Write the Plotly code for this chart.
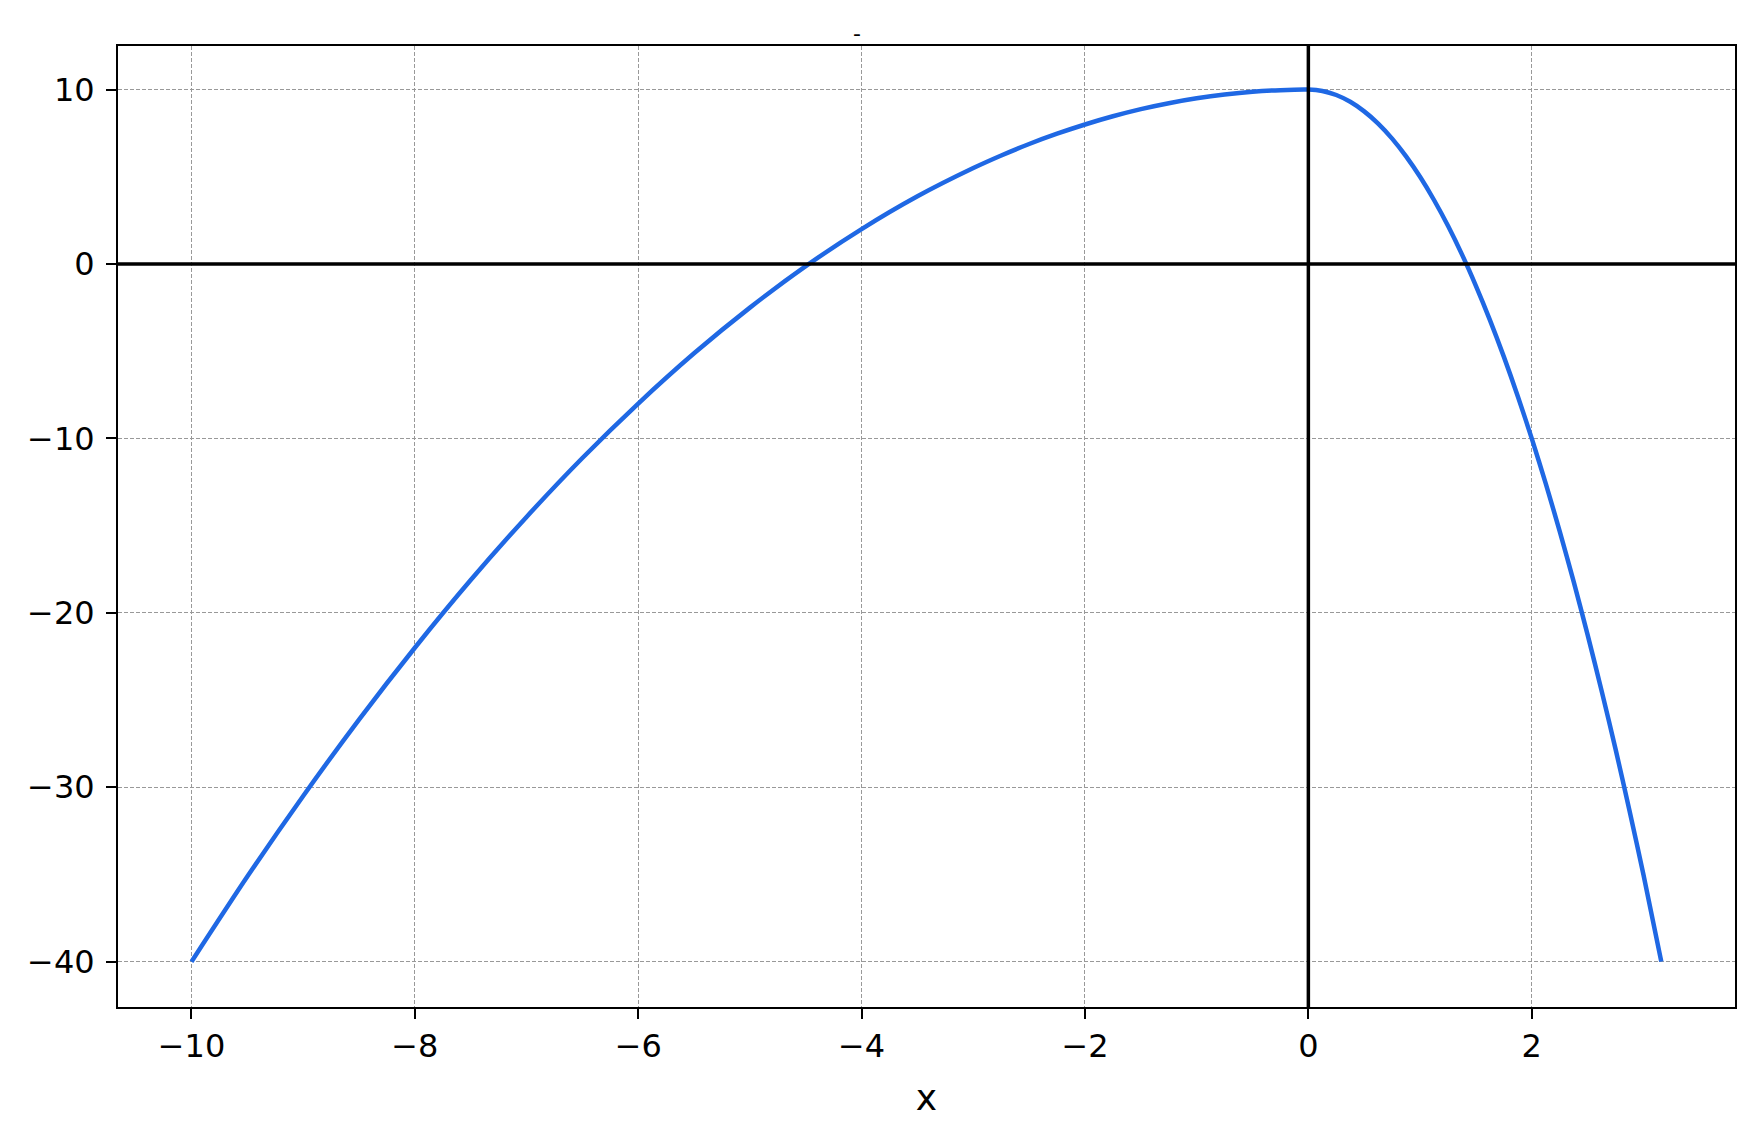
import plotly.graph_objects as go

# curve samples
x_vals = [-10, -9.5, -9, -8.5, -8, -7.5, -7, -6.5, -6, -5.5, -5, -4.5, -4, -3.5, -3,
          -2.75, -2.5, -2.25, -2, -1.75, -1.5, -1.25, -1, -0.75, -0.5, -0.25, 0,
          0.125, 0.25, 0.375, 0.5, 0.625, 0.75, 0.875, 1, 1.125, 1.25, 1.375, 1.5,
          1.625, 1.75, 1.875, 2, 2.125, 2.25, 2.375, 2.5, 2.625, 2.75, 2.875, 3, 3.16]
y_vals = [-40, -35.12, -30.5, -26.12, -22, -18.12, -14.5, -11.12, -8, -5.12, -2.5, -0.12, 2, 3.88, 5.5,
          6.22, 6.88, 7.47, 8, 8.47, 8.88, 9.22, 9.5, 9.72, 9.88, 9.97, 10,
          9.92, 9.69, 9.3, 8.75, 8.05, 7.19, 6.17, 5, 3.67, 2.19, 0.55, -1.25,
          -3.2, -5.31, -7.58, -10, -12.58, -15.31, -18.2, -21.25, -24.45, -27.8, -31.33, -35, -40]

x_ticks = [-10, -8, -6, -4, -2, 0, 2]
x_labels = ["\u221210", "\u22128", "\u22126", "\u22124", "\u22122", "0", "2"]
y_ticks = [-40, -30, -20, -10, 0, 10]
y_labels = ["\u221240", "\u221230", "\u221220", "\u221210", "0", "10"]

title_text = "-"
x_title = "x"

fig = go.Figure()
fig.add_trace(go.Scatter(x=x_vals, y=y_vals, mode="lines",
                         line=dict(color="#1f68e4", width=4.5, shape="spline", smoothing=0.8),
                         showlegend=False))

# black axes through the origin, drawn over the curve
fig.add_shape(type="line", xref="x", yref="paper", x0=0, x1=0, y0=0, y1=1,
              line=dict(color="black", width=3.5), layer="above")
fig.add_shape(type="line", xref="paper", yref="y", x0=0, x1=1, y0=0, y1=0,
              line=dict(color="black", width=3.5), layer="above")

axis_style = dict(showline=True, linecolor="black", linewidth=2, mirror=True,
                  ticks="outside", ticklen=10, tickwidth=2, tickcolor="black",
                  showgrid=True, gridcolor="#999999", gridwidth=1, griddash="4px,2px",
                  zeroline=False, tickfont=dict(size=32, color="black"))

fig.update_xaxes(range=[-10.658, 3.82], tickvals=x_ticks, ticktext=x_labels,
                 title=dict(text=x_title, font=dict(size=36, color="black"), standoff=20),
                 **axis_style)
fig.update_yaxes(range=[-42.6, 12.5], tickvals=y_ticks, ticktext=y_labels,
                 ticklabelstandoff=5, **axis_style)

fig.add_annotation(text=title_text, xref="paper", yref="paper", x=0.457, y=1.0,
                   yanchor="bottom", yshift=-2, showarrow=False,
                   font=dict(size=22, color="black"))

# page body has an 8px margin, so the figure is sized to fit the window
fig.update_layout(width=1751, height=1131,
                  margin=dict(l=110, r=24, t=38, b=132),
                  plot_bgcolor="white", paper_bgcolor="white",
                  font=dict(family="DejaVu Sans", color="black"))

fig.write_html("out.html")
